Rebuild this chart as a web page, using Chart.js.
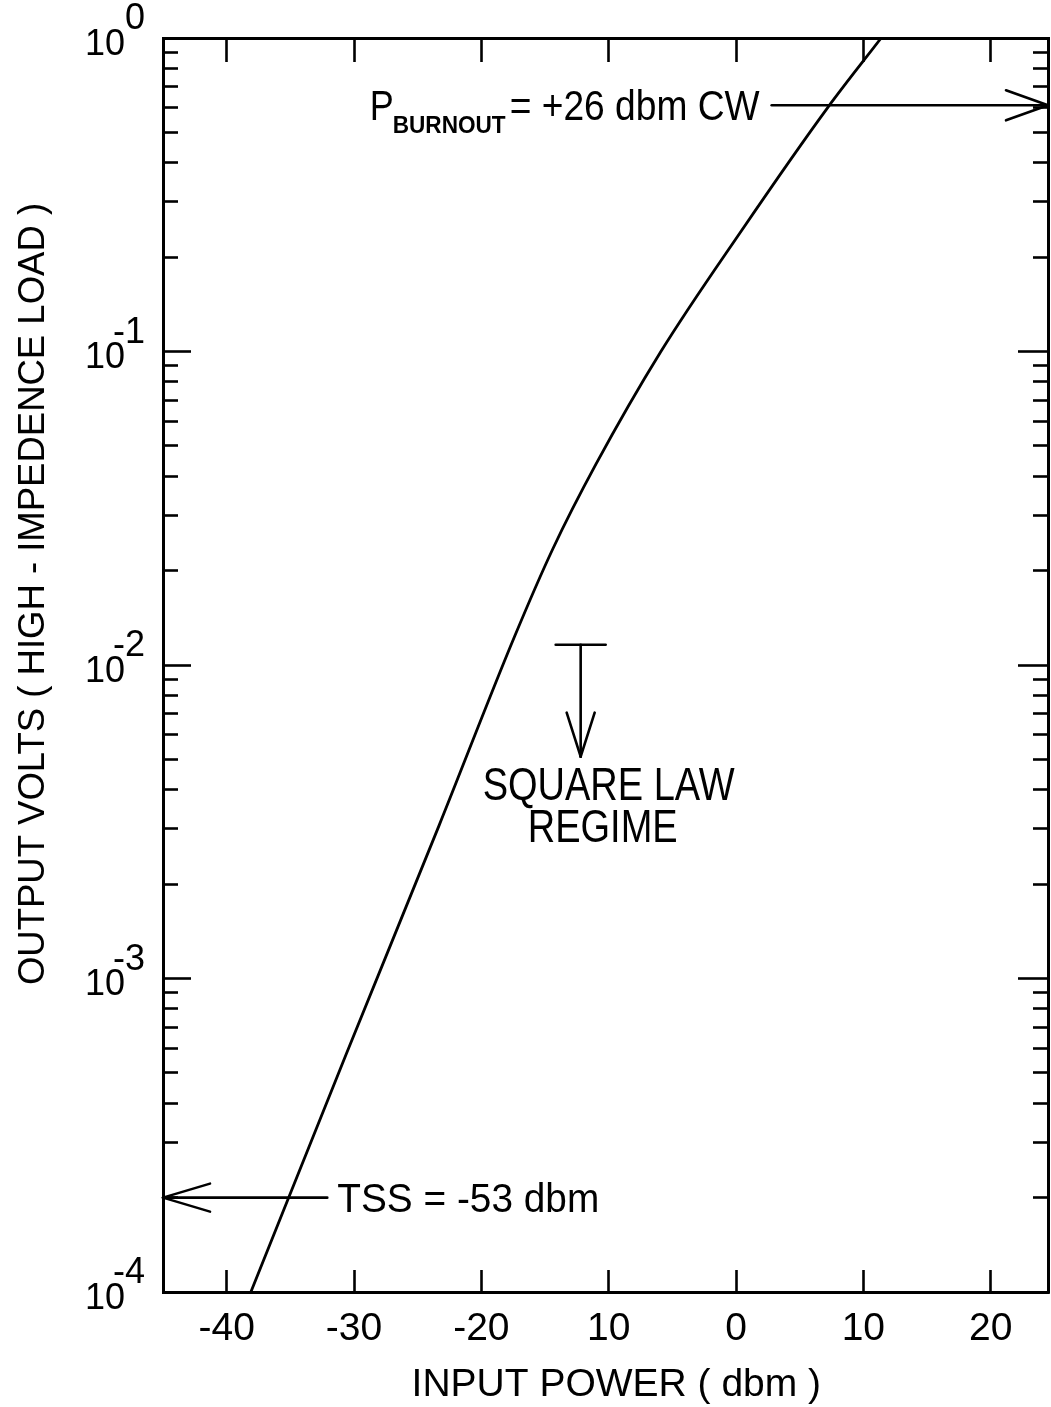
<!DOCTYPE html>
<html><head><meta charset="utf-8">
<script src="https://cdn.jsdelivr.net/npm/chart.js@4.4.1/dist/chart.umd.min.js"></script>
<style>html,body{margin:0;padding:0;background:#fff}#wrap{width:1051px;height:1407px;position:relative}</style>
</head><body><div id="wrap"><canvas id="c"></canvas></div>
<script>
// ---- data ----
const inputPower  = [-38.1, -30.6, -23.3, -17.4, -14.4, -11.0, -5.9, 0.4, 7.2, 11.4];
const outputVolts = [1.0e-4, 5.75e-4, 3.09e-3, 1.23e-2, 2.34e-2, 4.37e-2, 0.100, 0.242, 0.60, 1.0];
const xTickValues = [-40, -30, -20, -10, 0, 10, 20];
const xTickLabels = ['-40', '-30', '-20', '10', '0', '10', '20'];
const yTickValues = [1e-4, 1e-3, 1e-2, 1e-1, 1];
const yTickExponents = ['-4', '-3', '-2', '-1', '0'];
const xTitle = 'INPUT POWER ( dbm )';
const yTitle = 'OUTPUT VOLTS ( HIGH - IMPEDENCE LOAD )';
const burnoutVolts = 0.61, burnoutArrowFrom = 2.8;
const burnoutText = ['P', 'BURNOUT', '= +26 dbm CW'];
const tssVolts = 2.0e-4, tssArrowTo = -32.1;
const tssText = 'TSS = -53 dbm';
const squareLawPower = -12.2, squareLawTop = 0.0116, squareLawTip = 0.0051;
const squareLawText = ['SQUARE LAW', 'REGIME'];
const X_MIN = -45, X_MAX = 24.5, Y_MIN = 1e-4, Y_MAX = 1;

// minor log ticks 2..9 in each decade
const yMinorValues = [];
for (const d of yTickValues.slice(0, -1)) for (let k = 2; k <= 9; k++) yMinorValues.push(d * k);

const F = "'Liberation Sans', Arial, sans-serif";

const border = {display: true, color: '#000', width: 3};
function gridOpt(len) {
  return {drawOnChartArea: false, drawTicks: true, tickLength: len, tickWidth: 2.6, tickColor: '#000'};
}
function fixSize(prop, val) {
  return s => { s[prop] = val; s.paddingTop = 0; s.paddingBottom = 0; s.paddingLeft = 0; s.paddingRight = 0; };
}

const annotations = {
  id: 'annotations',
  afterDatasetsDraw(chart) {
    const {ctx, chartArea: a, scales} = chart;
    const x = scales.x, y = scales.y;
    ctx.save();
    ctx.strokeStyle = '#000'; ctx.fillStyle = '#000'; ctx.lineWidth = 2.6; ctx.lineCap = 'round';
    const seg = (x1, y1, x2, y2) => { ctx.beginPath(); ctx.moveTo(x1, y1); ctx.lineTo(x2, y2); ctx.stroke(); };
    const fit = (s, px, py, w, font, align) => {
      ctx.font = font; ctx.textAlign = 'left'; ctx.textBaseline = 'alphabetic';
      const m = ctx.measureText(s).width;
      const left = align === 'center' ? px - w / 2 : px;
      ctx.save(); ctx.translate(left, py); ctx.scale(w / m, 1); ctx.fillText(s, 0, 0); ctx.restore();
    };
    // burnout arrow
    const by = y.getPixelForValue(burnoutVolts);
    const bx = x.getPixelForValue(burnoutArrowFrom);
    seg(bx, by, a.right, by);
    seg(a.right - 42, by - 15, a.right, by);
    seg(a.right - 42, by + 15, a.right, by);
    fit(burnoutText[0], bx - 402, by + 15, 24, '42px ' + F);
    fit(burnoutText[1], bx - 379, by + 28, 113, 'bold 24px ' + F);
    fit(burnoutText[2], bx - 262, by + 15, 250, '42px ' + F);
    // TSS arrow
    const ty = y.getPixelForValue(tssVolts);
    const tx = x.getPixelForValue(tssArrowTo);
    seg(a.left, ty, tx, ty);
    seg(a.left + 47, ty - 14, a.left, ty);
    seg(a.left + 47, ty + 14, a.left, ty);
    fit(tssText, tx + 10, ty + 14, 262, '40px ' + F);
    // square law marker
    const sx = x.getPixelForValue(squareLawPower);
    const sy1 = y.getPixelForValue(squareLawTop);
    const sy2 = y.getPixelForValue(squareLawTip);
    seg(sx - 25, sy1, sx + 25, sy1);
    seg(sx, sy1, sx, sy2);
    seg(sx - 14, sy2 - 44, sx, sy2);
    seg(sx + 14, sy2 - 44, sx, sy2);
    fit(squareLawText[0], sx + 28, sy2 + 43, 252, '46px ' + F, 'center');
    fit(squareLawText[1], sx + 22, sy2 + 85, 150, '46px ' + F, 'center');
    ctx.restore();
  }
};

new Chart(document.getElementById('c'), {
  type: 'line',
  data: {
    datasets: [{
      data: inputPower.map((p, i) => ({x: p, y: outputVolts[i]})),
      borderColor: '#000', borderWidth: 2.8, pointRadius: 0,
      cubicInterpolationMode: 'monotone', fill: false
    }]
  },
  options: {
    responsive: true, maintainAspectRatio: false, animation: false,
    layout: {padding: 0},
    plugins: {legend: {display: false}, tooltip: {enabled: false}},
    scales: {
      x: {
        type: 'linear', position: 'bottom', min: X_MIN, max: X_MAX,
        afterBuildTicks: s => { s.ticks = xTickValues.map(v => ({value: v})); },
        afterFit: fixSize('height', 115),
        ticks: {autoSkip: false, maxRotation: 0, padding: 36, color: '#000',
                font: {family: F, size: 39},
                callback: (v, i) => xTickLabels[i]},
        grid: gridOpt(-22), border,
        title: {display: true, text: '  ' + xTitle, color: '#000', font: {family: F, size: 39}, padding: {top: 0, bottom: -2}}
      },
      xTop: {
        type: 'linear', position: 'top', min: X_MIN, max: X_MAX,
        afterBuildTicks: s => { s.ticks = xTickValues.map(v => ({value: v})); },
        afterFit: fixSize('height', 38),
        ticks: {display: false}, grid: gridOpt(-24), border
      },
      y: {
        type: 'logarithmic', position: 'left', min: Y_MIN, max: Y_MAX, weight: 1,
        afterBuildTicks: s => { s.ticks = yTickValues.map(v => ({value: v})); },
        afterFit: fixSize('width', 163),
        ticks: {autoSkip: false, padding: 46, color: '#000', labelOffset: -6,
                font: {family: F, size: 36, lineHeight: 0.7},
                callback: (v, i) => [yTickExponents[i], '10  ']},
        grid: gridOpt(-28), border,
        title: {display: true, text: '              ' + yTitle, color: '#000', font: {family: F, size: 36.5}, padding: {top: 12, bottom: 0}}
      },
      yMinorL: {
        type: 'logarithmic', position: 'left', min: Y_MIN, max: Y_MAX, weight: 0,
        afterBuildTicks: s => { s.ticks = yMinorValues.map(v => ({value: v})); },
        afterFit: fixSize('width', 0),
        ticks: {display: false}, grid: gridOpt(-15), border: {display: false}
      },
      yR: {
        type: 'logarithmic', position: 'right', min: Y_MIN, max: Y_MAX, weight: 1,
        afterBuildTicks: s => { s.ticks = yTickValues.map(v => ({value: v})); },
        afterFit: fixSize('width', 3),
        ticks: {display: false}, grid: gridOpt(-30), border
      },
      yMinorR: {
        type: 'logarithmic', position: 'right', min: Y_MIN, max: Y_MAX, weight: 0,
        afterBuildTicks: s => { s.ticks = yMinorValues.map(v => ({value: v})); },
        afterFit: fixSize('width', 0),
        ticks: {display: false}, grid: gridOpt(-15), border: {display: false}
      }
    }
  },
  plugins: [annotations]
});
</script></body></html>
